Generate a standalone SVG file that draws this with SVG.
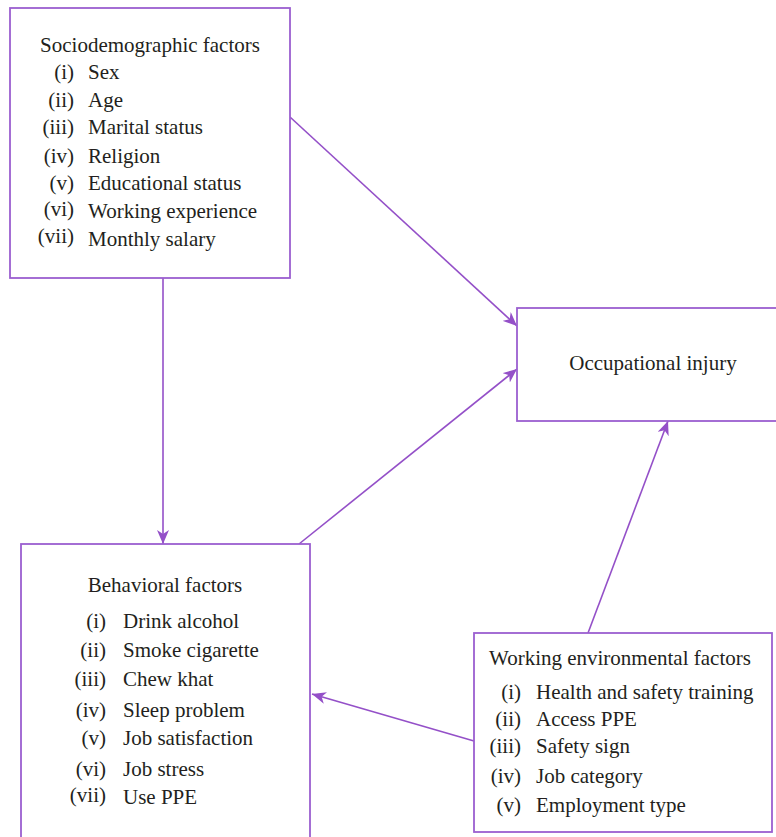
<svg xmlns="http://www.w3.org/2000/svg" width="776" height="837" viewBox="0 0 776 837">
<defs>
<style>
.box{fill:#fff;stroke:#9b5fd0;stroke-width:1.8}
.t{font-family:"Liberation Serif","Times New Roman",serif;font-size:21px;fill:#231f20}
.n{text-anchor:end}
.c{text-anchor:middle}
.ln{stroke:#9450c8;stroke-width:1.6;fill:none;marker-end:url(#ah)}
</style>
<marker id="ah" markerUnits="userSpaceOnUse" markerWidth="16" markerHeight="12" refX="14" refY="6" orient="auto">
<path d="M0,0 L14,6 L0,12 L4,6 z" fill="#9450c8"/>
</marker>
</defs>
<rect width="776" height="837" fill="#fff"/>
<g id="connectors">
<line class="ln" x1="290" y1="117" x2="517" y2="326"/>
<line class="ln" x1="163" y1="278" x2="163" y2="544"/>
<line class="ln" x1="299" y1="544" x2="517" y2="369"/>
<line class="ln" x1="588" y1="633" x2="668" y2="421"/>
<line class="ln" x1="474" y1="741" x2="312" y2="694"/>
</g>
<g id="socio">
<rect class="box" x="10" y="8" width="280" height="270"/>
<text class="t c" x="150" y="52">Sociodemographic factors</text>
<text class="t n" x="74" y="79">(i)</text><text class="t" x="88" y="79">Sex</text>
<text class="t n" x="74" y="107">(ii)</text><text class="t" x="88" y="107">Age</text>
<text class="t n" x="74" y="134">(iii)</text><text class="t" x="88" y="134">Marital status</text>
<text class="t n" x="74" y="163">(iv)</text><text class="t" x="88" y="163">Religion</text>
<text class="t n" x="74" y="190">(v)</text><text class="t" x="88" y="190">Educational status</text>
<text class="t n" x="74" y="216">(vi)</text><text class="t" x="88" y="218">Working experience</text>
<text class="t n" x="74" y="243">(vii)</text><text class="t" x="88" y="246">Monthly salary</text>
</g>
<g id="occupational">
<rect class="box" x="517" y="308" width="262" height="113"/>
<text class="t c" x="653" y="370">Occupational injury</text>
</g>
<g id="behavioral">
<rect class="box" x="21" y="544" width="289" height="300"/>
<text class="t c" x="165" y="592">Behavioral factors</text>
<text class="t n" x="106" y="628">(i)</text><text class="t" x="123" y="628">Drink alcohol</text>
<text class="t n" x="106" y="657">(ii)</text><text class="t" x="123" y="657">Smoke cigarette</text>
<text class="t n" x="106" y="686">(iii)</text><text class="t" x="123" y="686">Chew khat</text>
<text class="t n" x="106" y="717">(iv)</text><text class="t" x="123" y="717">Sleep problem</text>
<text class="t n" x="106" y="745">(v)</text><text class="t" x="123" y="745">Job satisfaction</text>
<text class="t n" x="106" y="776">(vi)</text><text class="t" x="123" y="776">Job stress</text>
<text class="t n" x="106" y="802">(vii)</text><text class="t" x="123" y="804">Use PPE</text>
</g>
<g id="working">
<rect class="box" x="474" y="633" width="298" height="199"/>
<text class="t" x="489" y="665">Working environmental factors</text>
<text class="t n" x="521" y="699">(i)</text><text class="t" x="536" y="699">Health and safety training</text>
<text class="t n" x="521" y="726">(ii)</text><text class="t" x="536" y="726">Access PPE</text>
<text class="t n" x="521" y="753">(iii)</text><text class="t" x="536" y="753">Safety sign</text>
<text class="t n" x="521" y="783">(iv)</text><text class="t" x="536" y="783">Job category</text>
<text class="t n" x="521" y="812">(v)</text><text class="t" x="536" y="812">Employment type</text>
</g>
</svg>
